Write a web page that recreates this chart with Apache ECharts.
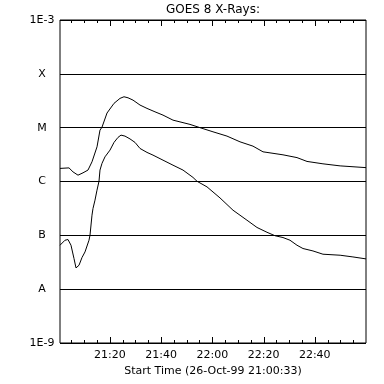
<!DOCTYPE html>
<html>
<head>
<meta charset="utf-8">
<script src="https://cdn.jsdelivr.net/npm/echarts@6/dist/echarts.min.js"></script>
<style>html,body{margin:0;padding:0;background:#fff;}#c{width:384px;height:384px;}</style>
</head>
<body>
<div id="c"></div>
<script>
// minutes after 21:00 UT
const upperTimes = [0.55, 4.06, 5.62, 7.58, 9.53, 11.48, 13.04, 15.0, 16.16, 16.94, 18.9, 21.63, 23.97, 25.53, 27.1, 29.05, 31.78, 34.51, 37.63, 40.76, 44.66, 51.3, 55.2, 60.27, 65.74, 70.81, 75.88, 79.79, 81.35, 87.6, 93.06, 96.97, 103.2, 109.9, 120];
const upperFlux = [1.75e-6, 1.79e-6, 1.51e-6, 1.31e-6, 1.45e-6, 1.63e-6, 2.32e-6, 4.41e-6, 9.0e-6, 1.02e-5, 1.87e-5, 2.83e-5, 3.50e-5, 3.75e-5, 3.59e-5, 3.25e-5, 2.63e-5, 2.28e-5, 1.97e-5, 1.71e-5, 1.38e-5, 1.15e-5, 1.0e-5, 8.38e-6, 6.97e-6, 5.46e-6, 4.54e-6, 3.56e-6, 3.47e-6, 3.13e-6, 2.78e-6, 2.36e-6, 2.13e-6, 1.95e-6, 1.81e-6];
const lowerTimes = [0.55, 1.33, 2.5, 3.67, 4.84, 6.01, 6.8, 7.97, 9.14, 10.31, 11.09, 11.87, 12.26, 13.04, 13.43, 14.21, 14.99, 15.77, 16.16, 16.94, 18.11, 20.07, 21.63, 23.19, 24.36, 25.92, 27.87, 29.83, 31.78, 34.51, 36.85, 40.76, 44.66, 48.56, 52.47, 54.03, 57.93, 63.0, 68.08, 73.54, 77.45, 81.35, 84.47, 87.6, 90.33, 93.06, 95.4, 99.3, 103.2, 109.9, 114.9, 120];
const lowerFlux = [6.55e-8, 6.36e-8, 8.11e-8, 8.36e-8, 6.55e-8, 3.71e-8, 2.48e-8, 2.78e-8, 3.87e-8, 4.92e-8, 5.07e-8, 8.11e-8, 1.0e-7, 2.37e-7, 3.15e-7, 4.5e-7, 6.9e-7, 1.01e-6, 1.63e-6, 2.17e-6, 2.87e-6, 3.83e-6, 5.32e-6, 6.59e-6, 7.27e-6, 6.97e-6, 6.18e-6, 5.32e-6, 4.11e-6, 3.47e-6, 3.09e-6, 2.49e-6, 2.01e-6, 1.63e-6, 1.19e-6, 1.01e-6, 7.95e-7, 4.96e-7, 2.93e-7, 1.91e-7, 1.40e-7, 1.14e-7, 9.84e-8, 9.1e-8, 8.11e-8, 6.55e-8, 5.69e-8, 5.13e-8, 4.46e-8, 4.27e-8, 3.97e-8, 3.65e-8];
const xMinorTicks = [5, 10, 15, 25, 30, 35, 45, 50, 55, 65, 70, 75, 85, 90, 95, 105, 110, 115];
const xMajorTicks = [20, 40, 60, 80, 100];
const xTickLabels = ['21:20', '21:40', '22:00', '22:20', '22:40'];
const yLevels = [1e-3, 1e-4, 1e-5, 1e-6, 1e-7, 1e-8, 1e-9];
const yTickLabels = ['1E-3', 'X', 'M', 'C', 'B', 'A', '1E-9'];
const titleText = 'GOES 8 X-Rays:';
const xAxisTitle = 'Start Time (26-Oct-99 21:00:33)';

const FONT = 'DejaVu Sans';
const xMin = 0.55, xMax = 120, yMin = 1e-9, yMax = 1e-3;

// inward tick marks on bottom and top frame edges, placed through the x scale
function tickSeries(values, len) {
  return {
    type: 'custom', xAxisIndex: 0, yAxisIndex: 0, silent: true, clip: false, z: 5,
    data: values.map(function (t) { return [t, 1e-6]; }),
    renderItem: function (params, api) {
      const t = api.value(0);
      const b = api.coord([t, yMin]);
      const tp = api.coord([t, yMax]);
      const x = Math.round(b[0]) + 0.5;
      const st = { stroke: '#000', lineWidth: 1 };
      return {
        type: 'group', children: [
          { type: 'line', shape: { x1: x, y1: Math.round(b[1]), x2: x, y2: Math.round(b[1]) - len }, style: st },
          { type: 'line', shape: { x1: x, y1: Math.round(tp[1]), x2: x, y2: Math.round(tp[1]) + len }, style: st }
        ]
      };
    }
  };
}
const chart = echarts.init(document.getElementById('c'), null, { renderer: 'canvas' });
chart.setOption({
  animation: false,
  backgroundColor: '#fff',
  graphic: [{ type: 'text', x: 213, y: 4, style: { text: titleText, textAlign: 'center', fill: '#000', font: '12px "DejaVu Sans"' } }],
  grid: { left: 60, right: 18, top: 20, bottom: 41, show: true, borderColor: '#000', borderWidth: 1, backgroundColor: 'transparent' },
  xAxis: {
    type: 'value', position: 'bottom', min: xMin, max: xMax,
    axisLine: { show: false }, axisTick: { show: false }, splitLine: { show: false },
    axisLabel: {
      show: true, customValues: xMajorTicks, margin: 7, color: '#000', fontFamily: FONT, fontSize: 11,
      formatter: function (v) { const i = xMajorTicks.indexOf(Math.round(v)); return i >= 0 ? xTickLabels[i] : ''; }
    },
    name: xAxisTitle, nameLocation: 'middle', nameGap: 20,
    nameTextStyle: { color: '#000', fontFamily: FONT, fontSize: 11 }
  },
  yAxis: {
    type: 'log', logBase: 10, min: yMin, max: yMax,
    axisLine: { show: false }, axisTick: { show: false },
    splitLine: { show: true, lineStyle: { color: '#000', width: 1 } },
    axisLabel: {
      color: '#000', fontFamily: FONT, fontSize: 11, margin: 18, align: 'center',
      formatter: function (v) {
        const e = Math.round(Math.log10(v));
        const i = yLevels.findIndex(function (l) { return Math.round(Math.log10(l)) === e; });
        return i >= 0 ? yTickLabels[i] : '';
      }
    }
  },
  series: [
    { type: 'line', showSymbol: false, lineStyle: { color: '#000', width: 1 }, data: upperTimes.map(function (t, i) { return [t, upperFlux[i]]; }) },
    { type: 'line', showSymbol: false, lineStyle: { color: '#000', width: 1 }, data: lowerTimes.map(function (t, i) { return [t, lowerFlux[i]]; }) },
    tickSeries(xMinorTicks, 3),
    tickSeries(xMajorTicks, 6)
  ]
});
</script>
</body>
</html>
